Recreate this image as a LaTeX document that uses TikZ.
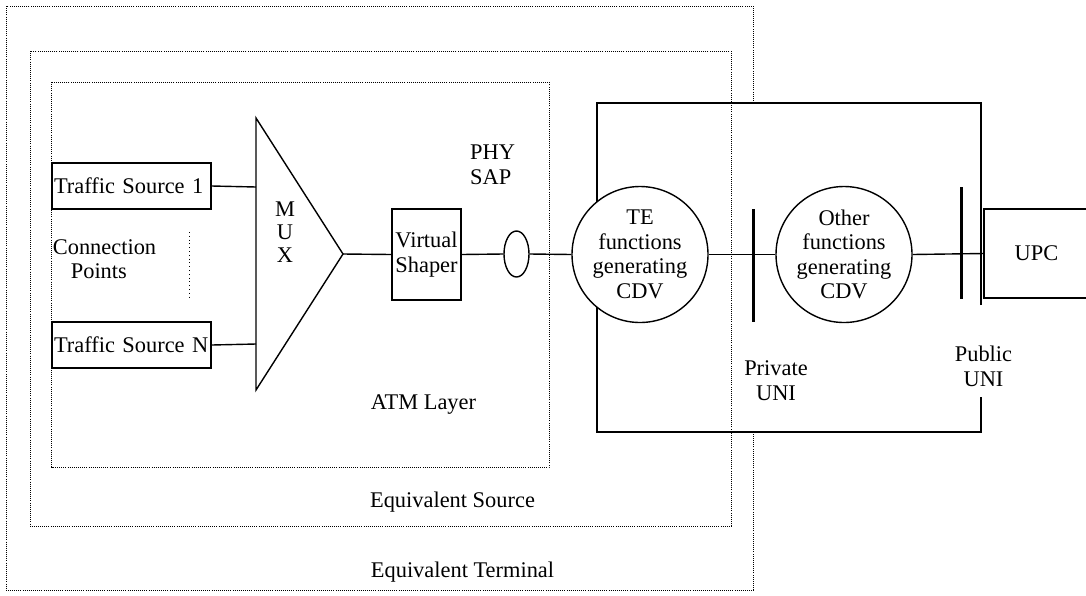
\documentclass[tikz,border=0pt]{standalone}
\usepackage{fontspec}
\setmainfont{Liberation Serif}
\usetikzlibrary{shapes.geometric}
\begin{document}
\begin{tikzpicture}[x=1pt,y=-1pt,
  txt/.style={font=\fontsize{22.4}{24.5}\selectfont, inner sep=0pt},
  solid line/.style={line width=1.4pt},
  dotbox/.style={line width=0.9pt, dash pattern=on 0.9pt off 1.2pt},
  boxnode/.style={draw, solid line, fill=white, txt, inner sep=0pt},
  ubar/.style={line width=3.6pt},
  fcircle/.style={draw, solid line, fill=white, circle, minimum size=136pt, inner sep=0pt, align=center, txt}
]
\useasboundingbox (0,0) rectangle (1086,595);
\fill[white] (0,0) rectangle (1086,595);
% outer dotted box: Equivalent Terminal
\draw[dotbox] (6,6) rectangle (753.5,590);
% big solid rectangle with gap near Public UNI
\fill[white] (597,103) rectangle (981,432);
\draw[solid line] (981,305) -- (981,103) -- (597,103) -- (597,432) -- (981,432) -- (981,397);
% middle and inner dotted boxes
\draw[dotbox] (30,51) rectangle (731,526);
\draw[dotbox] (51.5,82) rectangle (549,467);
% dotted line between sources
\draw[dotbox, dash pattern=on 1pt off 2.8pt] (189,232) -- (189,300);

% sources
\node[boxnode, minimum width=159pt, minimum height=46pt, text width=155pt, align=left] (ts1) at (131.5,186) {Traffic Source 1};
\node[boxnode, minimum width=159pt, minimum height=46pt, text width=155pt, align=left] (tsN) at (131.5,345) {Traffic Source N};

% MUX
\draw[solid line] (256,118) -- (343,254) -- (256,390) -- cycle;
\coordinate (muxin1) at (256,187);
\coordinate (muxinN) at (256,344);
\coordinate (muxtip) at (343,254);
\node[txt, align=center] (muxlabel) at (285,232) {M\\[-1.5pt]U\\[-1.5pt]X};

% virtual shaper
\node[boxnode, minimum width=69pt, minimum height=91pt, align=center] (vs) at (426.5,254.5) {Virtual\\Shaper};
% PHY SAP
\node[draw, solid line, fill=white, ellipse, minimum width=25pt, minimum height=46pt, inner sep=0pt] (sap) at (516.5,254) {};
\node[txt, align=left, anchor=west] (phylabel) at (470,165) {PHY\\SAP};

% circles
\node[fcircle] (te) at (640,254.5) {TE\\functions\\generating\\CDV};
\node[fcircle] (other) at (844,254.5) {Other\\functions\\generating\\CDV};

% UPC
\node[boxnode, minimum width=105pt, minimum height=89pt] (upc) at (1036.5,253.5) {UPC};

% connectors
\draw[solid line] (ts1.east) -- (muxin1);
\draw[solid line] (tsN.east) -- (muxinN);
\draw[solid line] (muxtip) -- (vs.west);
\draw[solid line] (vs.east) -- (sap.west);
\draw[solid line] (sap.east) -- (te.west);
\draw[solid line] (te.east) -- (other.west);
\draw[solid line] (other.east) -- (upc.west);

% UNI bars
\coordinate (bar1top) at (753.5,209);
\coordinate (bar1bot) at (753.5,322);
\coordinate (bar2top) at (961.6,187);
\coordinate (bar2bot) at (961.6,299);
\draw[ubar] (bar1top) -- (bar1bot);
\draw[ubar] (bar2top) -- (bar2bot);

% labels
\node[txt, align=left] (connpts) at (104.5,259) {Connection\\\hspace*{18pt}Points};
\node[txt, align=center] (privuni) at (776,380.5) {Private\\UNI};
\node[txt, align=center] (pubuni) at (983.5,366.5) {Public\\UNI};
\node[txt] (atm) at (423.5,405) {ATM Layer};
\node[txt] (eqsrc) at (452.5,502) {Equivalent Source};
\node[txt] (eqterm) at (462.5,572) {Equivalent Terminal};
\end{tikzpicture}
\end{document}
